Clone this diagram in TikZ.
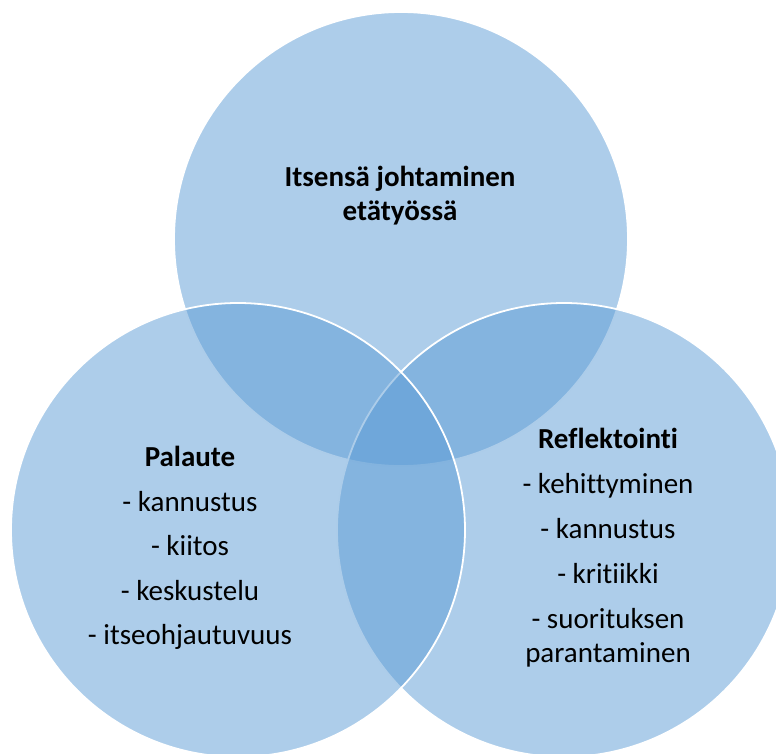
\documentclass[tikz,border=0pt]{standalone}
\usepackage{fontspec}
\setmainfont[Ligatures=NoCommon]{Carlito}
\usepackage{tikz}
\usepackage{xcolor}
\definecolor{vennblue}{RGB}{91,155,213}

\begin{document}
\begin{tikzpicture}[x=1pt,y=1pt,
    venn/.style={fill=vennblue,fill opacity=0.5,draw=white,line width=1.8pt},
    vtext/.style={align=center,text=black,font=\fontsize{29}{34}\selectfont}]
            \useasboundingbox (0,0) rectangle (776,753);
            \clip (0,0) rectangle (776,753);
            \coordinate (ctop) at (401,514);
            \coordinate (cright) at (564,223);
            \coordinate (cleft) at (238,223);
            \draw[venn] (ctop) circle (227);
            \draw[venn] (cright) circle (227);
            \draw[venn] (cleft) circle (227);
            \node[vtext] (itse) at (400,557) {\textbf{Itsensä johtaminen}\\\textbf{etätyössä}};
            \node[vtext] (palaute) at (190,205) {\textbf{Palaute}\\[10.5pt]- kannustus\\[10.5pt]- kiitos\\[10.5pt]- keskustelu\\[10.5pt]- itseohjautuvuus};
            \node[vtext] (reflektointi) at (608,205.5) {\textbf{Reflektointi}\\[11pt]- kehittyminen\\[11pt]- kannustus\\[11pt]- kritiikki\\[11pt]- suorituksen\\parantaminen};
        \end{tikzpicture}
\end{document}
